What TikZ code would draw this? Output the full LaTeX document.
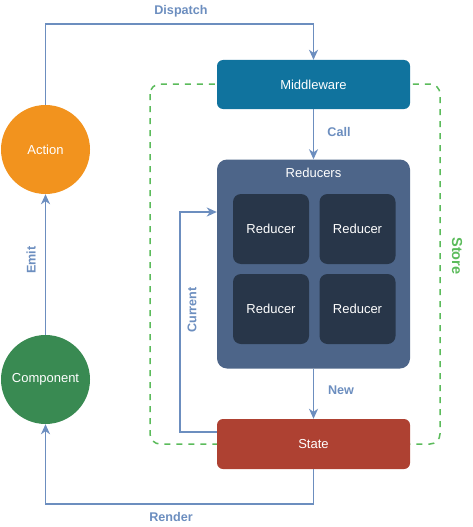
\documentclass[tikz,border=0pt]{standalone}
\usepackage{fontspec}
\setmainfont{Liberation Sans}
\usetikzlibrary{arrows.meta}
\definecolor{edgeblue}{HTML}{6C8EBF}
\definecolor{mwblue}{HTML}{10739E}
\definecolor{redcont}{HTML}{4D6589}
\definecolor{reddark}{HTML}{283649}
\definecolor{statered}{HTML}{AE4132}
\definecolor{actorange}{HTML}{F2931E}
\definecolor{compgreen}{HTML}{398A52}
\definecolor{storegreen}{HTML}{5BBB5B}
\begin{document}
\begin{tikzpicture}[x=1pt,y=-1pt,
  every node/.style={font=\fontsize{13}{15}\selectfont},
  boxstyle/.style={draw=none,rounded corners=6pt,text=white,inner sep=0pt},
  circ/.style={circle,draw=none,minimum size=89pt,text=white,inner sep=0pt},
  conn/.style={draw=edgeblue,line width=1.6pt,-{Stealth[length=10pt,width=9pt,inset=3pt]}},
  elabel/.style={text=edgeblue,font=\fontsize{12.6}{15}\selectfont\bfseries},
]
\useasboundingbox (0,0) rectangle (473,527);
% Store dashed frame
\draw[storegreen,line width=1.5pt,dash pattern=on 6pt off 6pt,rounded corners=10pt] (150,84) rectangle (440,444);
\node[text=storegreen,font=\fontsize{14.5}{16}\selectfont\bfseries,rotate=-90] (storelbl) at (457,256) {Store};
% nodes
\node[boxstyle,fill=mwblue,minimum width=193pt,minimum height=49pt] (mw) at (313.5,84.5) {Middleware};
\node[boxstyle,fill=redcont,rounded corners=10pt,minimum width=193pt,minimum height=209pt] (red) at (313.5,264) {};
\node[text=white,anchor=center] (redlbl) at (313.5,173) {Reducers};
\node[boxstyle,fill=reddark,rounded corners=8pt,minimum width=76pt,minimum height=70pt] (r1) at (271,229) {Reducer};
\node[boxstyle,fill=reddark,rounded corners=8pt,minimum width=76pt,minimum height=70pt] (r2) at (357.5,229) {Reducer};
\node[boxstyle,fill=reddark,rounded corners=8pt,minimum width=76pt,minimum height=70pt] (r3) at (271,309) {Reducer};
\node[boxstyle,fill=reddark,rounded corners=8pt,minimum width=76pt,minimum height=70pt] (r4) at (357.5,309) {Reducer};
\node[boxstyle,fill=statered,minimum width=193pt,minimum height=50pt] (st) at (313.5,444) {State};
\node[circ,fill=actorange] (act) at (45.5,149.5) {Action};
\node[circ,fill=compgreen] (comp) at (45.5,379.5) {Component};
% connectors
\draw[conn] (act.north) |- (45.5,24) -| (mw.north);
\node[elabel] (dlbl) at (181,11) {Dispatch};
\draw[conn] (mw.south) -- (red.north);
\node[elabel] (clbl) at (339,132) {Call};
\draw[conn] (red.south) -- (st.north);
\node[elabel] (nlbl) at (341,390) {New};
\draw[conn] (st.west |- 0,432) -- (180,432) |- (red.west |- 0,212);
\node[elabel,rotate=90] (curlbl) at (192,310) {Current};
\draw[conn] (st.south) |- (45.5,504) -- (comp.south);
\node[elabel] (rlbl) at (171,517) {Render};
\draw[conn] (comp.north) -- (act.south);
\node[elabel,rotate=90] (elbl) at (31,260) {Emit};
\end{tikzpicture}
\end{document}
